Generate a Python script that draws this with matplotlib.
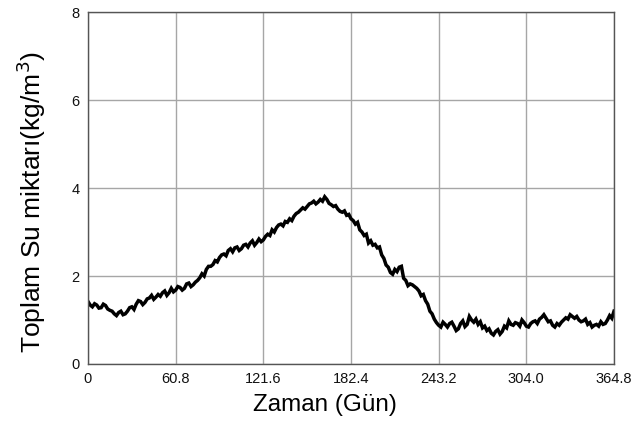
import matplotlib
matplotlib.use("Agg")
import matplotlib.pyplot as plt
import numpy as np

plt.rcParams['font.family'] = ['Liberation Sans', 'DejaVu Sans']

# Toplam su miktari (kg/m3), yaklasik 1.52 gunluk adimlarla
su_miktari = [
    1.42, 1.34, 1.30, 1.37, 1.34, 1.27, 1.28, 1.36, 1.33, 1.25,
    1.22, 1.20, 1.14, 1.10, 1.17, 1.20, 1.12, 1.14, 1.20, 1.28,
    1.30, 1.24, 1.36, 1.44, 1.42, 1.35, 1.40, 1.48, 1.50, 1.56,
    1.47, 1.52, 1.58, 1.54, 1.62, 1.66, 1.56, 1.62, 1.72, 1.64,
    1.68, 1.76, 1.74, 1.68, 1.72, 1.82, 1.84, 1.76, 1.80, 1.86,
    1.90, 1.96, 2.05, 2.00, 2.15, 2.22, 2.22, 2.26, 2.35, 2.32,
    2.42, 2.48, 2.50, 2.46, 2.58, 2.62, 2.55, 2.64, 2.66, 2.58,
    2.62, 2.70, 2.72, 2.66, 2.75, 2.80, 2.70, 2.76, 2.84, 2.78,
    2.82, 2.90, 2.95, 2.92, 3.05, 3.00, 3.10, 3.16, 3.18, 3.14,
    3.24, 3.22, 3.30, 3.26, 3.36, 3.42, 3.45, 3.50, 3.55, 3.52,
    3.58, 3.64, 3.66, 3.70, 3.64, 3.68, 3.74, 3.70, 3.80, 3.74,
    3.65, 3.62, 3.58, 3.60, 3.52, 3.47, 3.45, 3.48, 3.38, 3.40,
    3.30, 3.26, 3.18, 3.22, 3.05, 3.00, 2.92, 2.95, 2.75, 2.80,
    2.70, 2.72, 2.64, 2.66, 2.48, 2.40, 2.25, 2.20, 2.08, 2.04,
    2.15, 2.10, 2.20, 2.22, 1.95, 1.90, 1.78, 1.82, 1.80, 1.76,
    1.72, 1.66, 1.55, 1.58, 1.44, 1.36, 1.20, 1.14, 1.02, 0.94,
    0.88, 0.84, 0.95, 0.90, 0.84, 0.92, 0.95, 0.86, 0.76, 0.80,
    0.92, 0.98, 0.85, 0.90, 1.08, 1.00, 0.95, 1.02, 0.90, 0.96,
    0.82, 0.86, 0.76, 0.80, 0.70, 0.66, 0.74, 0.78, 0.68, 0.74,
    0.86, 0.82, 0.98, 0.90, 0.88, 0.94, 0.92, 0.86, 1.00, 0.94,
    0.86, 0.84, 0.92, 0.96, 0.98, 0.92, 1.02, 1.06, 1.12, 1.04,
    0.96, 0.98, 0.88, 0.84, 0.92, 0.88, 0.95, 1.00, 1.05, 1.02,
    1.12, 1.08, 1.04, 1.08, 1.00, 0.96, 0.98, 1.02, 0.90, 0.94,
    0.84, 0.88, 0.90, 0.86, 0.96, 0.90, 0.92, 1.00, 1.10, 1.04,
    1.20,
]
gun = np.linspace(0, 364.8, len(su_miktari))

x_ticks = [0, 60.8, 121.6, 182.4, 243.2, 304.0, 364.8]
x_labels = ['0', '60.8', '121.6', '182.4', '243.2', '304.0', '364.8']
y_ticks = [0, 2, 4, 6, 8]

fig = plt.figure(figsize=(6.33, 4.30), dpi=100)
ax = fig.add_axes([0.139, 0.1535, 0.831, 0.8185])

ax.plot(gun, su_miktari, color='black', linewidth=2.5, solid_joinstyle='miter')

ax.set_xlim(0, 364.8)
ax.set_ylim(0, 8)
ax.set_xticks(x_ticks)
ax.set_xticklabels(x_labels)
ax.set_yticks(y_ticks)
ax.tick_params(length=0, labelsize=10.5, pad=6, colors='#111111')
ax.grid(True, color='#a6a6a6', linewidth=1.0)
for s in ax.spines.values():
    s.set_color('#555555')
    s.set_linewidth(1.0)

fig.text(0.049, 0.529, 'Toplam Su miktarı(kg/m$^3$)', rotation=90,
         ha='center', va='center', fontsize=19)
fig.text(0.513, 0.058, 'Zaman (Gün)', ha='center', va='center', fontsize=17.5)

fig.savefig('out.png', dpi=100)
